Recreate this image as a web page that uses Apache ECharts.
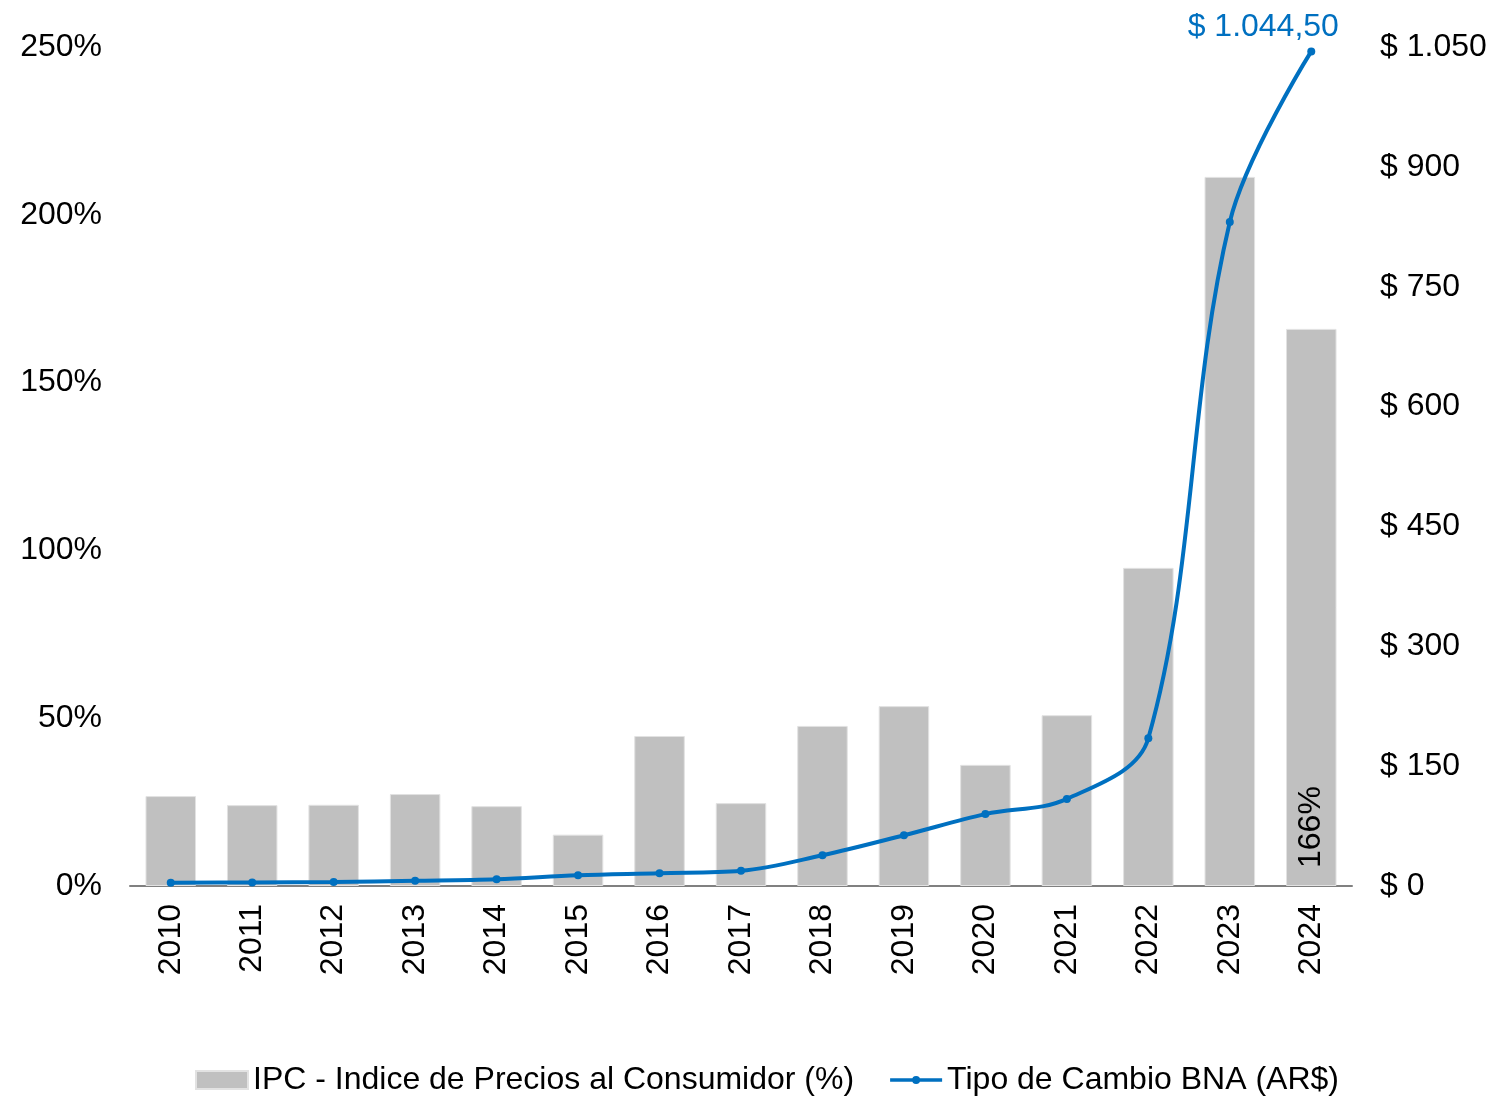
<!DOCTYPE html>
<html>
<head>
<meta charset="utf-8">
<script src="https://cdn.jsdelivr.net/npm/echarts@6/dist/echarts.min.js"></script>
<style>
  html, body { margin: 0; padding: 0; background: #fff; }
  #chart { width: 1496px; height: 1099px; }
</style>
</head>
<body>
<div id="chart"></div>
<script>
const years = ['2010', '2011', '2012', '2013', '2014', '2015', '2016', '2017',
  '2018', '2019', '2020', '2021', '2022', '2023', '2024'];
// IPC anual (%)
const ipc = [26.8, 24.1, 24.2, 27.4, 23.8, 15.3, 44.7, 24.7, 47.7, 53.6, 36.1, 50.9, 94.8, 211.3, 166];
// Tipo de cambio BNA (AR$)
const bna = [4.0, 4.5, 5.0, 6.5, 8.5, 13.5, 16.0, 19.0, 38.5, 63.5, 90.0, 109.0, 185.0, 831.0, 1044.5];
const pctTicks = [0, 50, 100, 150, 200, 250];
const usdTicks = [0, 150, 300, 450, 600, 750, 900, 1050];

const font = "'Liberation Sans', Arial, sans-serif";
const blue = '#0070c0';
const fs = 32;

const fmtMoney = (v) => '$ ' + v.toLocaleString('de-DE');

// icono de leyenda: linea con punto chico
const lineIcon = 'path://M0,0 L0.01,0 L0,0.01 Z M52,18 L51.99,18 L52,17.99 Z ' +
  'M0,7.3 L52,7.3 L52,10.7 L0,10.7 Z M22,9 A4,4 0 1,1 30,9 A4,4 0 1,1 22,9 Z';

const chart = echarts.init(document.getElementById('chart'));

chart.setOption({
  backgroundColor: '#fff',
  animation: false,
  textStyle: { fontFamily: font },
  grid: { left: 130, right: 144, top: 47, bottom: 213, containLabel: false },
  legend: {
    bottom: -2,
    left: 190,
    itemWidth: 52,
    itemHeight: 18,
    itemGap: 36,
    textStyle: { fontSize: fs, color: '#000', fontFamily: font },
    data: [
      { name: 'IPC - Indice de Precios al Consumidor (%)', icon: 'rect' },
      { name: 'Tipo de Cambio BNA (AR$)', icon: lineIcon },
    ],
  },
  xAxis: {
    type: 'category',
    data: years,
    axisLine: { lineStyle: { color: '#808080', width: 2 } },
    axisTick: { show: false },
    axisLabel: { rotate: 90, fontSize: fs, color: '#000', margin: 18 },
  },
  yAxis: [
    {
      type: 'value',
      min: pctTicks[0],
      max: pctTicks[pctTicks.length - 1],
      interval: 50,
      splitLine: { show: false },
      axisLine: { show: false },
      axisTick: { show: false },
      axisLabel: {
        fontSize: fs, color: '#000', margin: 28,
        formatter: (v) => v + '%',
      },
    },
    {
      type: 'value',
      min: usdTicks[0],
      max: usdTicks[usdTicks.length - 1],
      interval: 150,
      splitLine: { show: false },
      axisLine: { show: false },
      axisTick: { show: false },
      axisLabel: {
        fontSize: fs, color: '#000', margin: 28,
        formatter: fmtMoney,
      },
    },
  ],
  series: [
    {
      name: 'IPC - Indice de Precios al Consumidor (%)',
      type: 'bar',
      yAxisIndex: 0,
      barWidth: '62%',
      itemStyle: { color: '#c0c0c0', borderColor: '#e2e2e2', borderWidth: 1 },
      data: ipc.map((v, i) => ({
        value: v,
        label: i === ipc.length - 1 ? {
          show: true,
          position: 'insideBottom',
          rotate: 90,
          align: 'left',
          verticalAlign: 'middle',
          distance: 18,
          fontSize: fs,
          color: '#000',
          formatter: (p) => Math.round(p.value) + '%',
        } : { show: false },
      })),
      emphasis: { disabled: true },
    },
    {
      name: 'Tipo de Cambio BNA (AR$)',
      type: 'line',
      yAxisIndex: 1,
      smooth: 0.35,
      symbol: 'circle',
      symbolSize: 8,
      lineStyle: { color: blue, width: 4 },
      itemStyle: { color: blue },
      data: bna.map((v, i) => ({
        value: v,
        label: i === bna.length - 1 ? {
          show: true,
          position: 'top',
          distance: 4,
          offset: [-48, 0],
          fontSize: fs,
          color: blue,
          formatter: (p) => '$ ' + p.value.toLocaleString('de-DE', { minimumFractionDigits: 2 }),
        } : { show: false },
      })),
      emphasis: { disabled: true },
    },
  ],
});
</script>
</body>
</html>
